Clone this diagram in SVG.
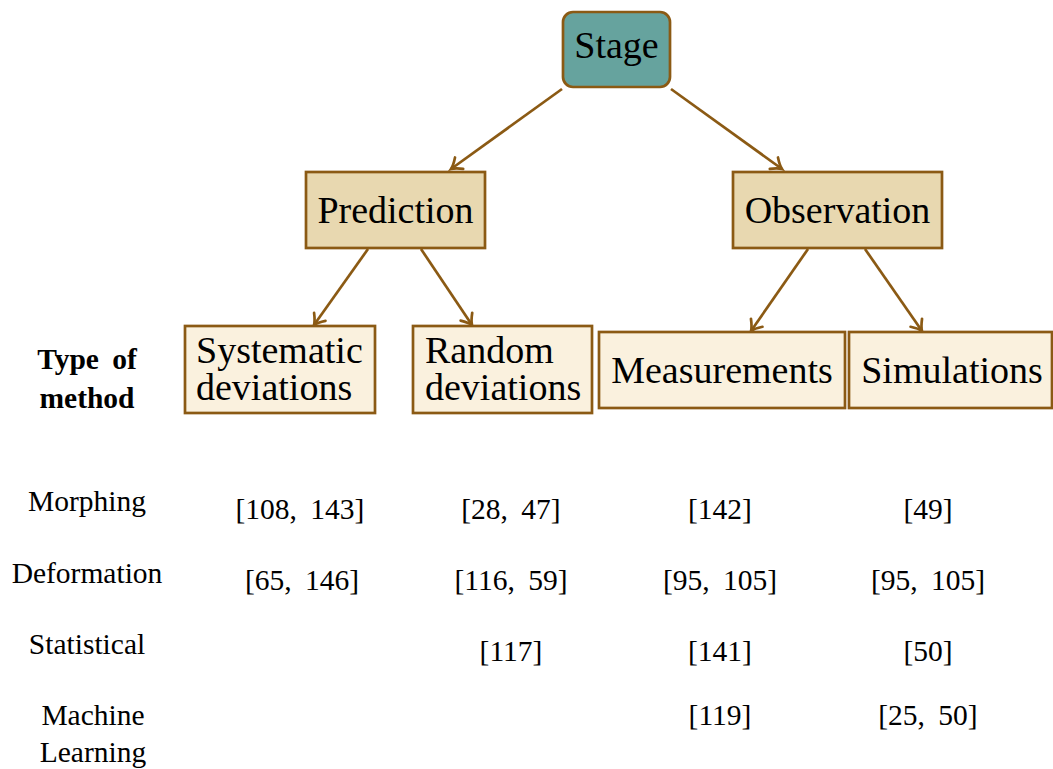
<svg xmlns="http://www.w3.org/2000/svg" width="1053" height="769" viewBox="0 0 1053 769">
<defs>
<style>
.box{stroke:#8b5a14;stroke-width:2.7}
.root{fill:#66a39e}
.mid{fill:#e8d8b0}
.leaf{fill:#faf1de}
.nt{font-size:38px;fill:#000}
.t{font-size:29.5px;fill:#000;text-anchor:middle}
.r{word-spacing:6px}
.b{font-weight:bold;word-spacing:6px}
.edge{stroke:#8b5a14;stroke-width:2.7;fill:none;marker-end:url(#ah)}
</style>
<marker id="ah" markerUnits="userSpaceOnUse" markerWidth="20" markerHeight="20" viewBox="-12 -10 14 20" refX="0" refY="0" orient="auto">
<path d="M-10,-7 Q-4,-1.5 0,0 Q-4,1.5 -10,7" fill="none" stroke="#8b5a14" stroke-width="2.7" stroke-linecap="round"/>
</marker>
</defs>
<g id="connectors">
<line class="edge" x1="562" y1="89" x2="451" y2="169"/>
<line class="edge" x1="671" y1="89" x2="782" y2="169"/>
<line class="edge" x1="368" y1="249" x2="314" y2="325"/>
<line class="edge" x1="421" y1="249" x2="472" y2="325"/>
<line class="edge" x1="808" y1="249" x2="751" y2="331"/>
<line class="edge" x1="865" y1="249" x2="922" y2="331"/>
</g>
<g font-family="Liberation Serif, Times New Roman, serif">
<g id="stage">
<rect class="box root" x="563" y="12" width="107" height="75" rx="10"/>
<text class="nt" x="616.5" y="58" text-anchor="middle">Stage</text>
</g>
<g id="prediction">
<rect class="box mid" x="306" y="172" width="179" height="76"/>
<text class="nt" x="395.5" y="223" text-anchor="middle">Prediction</text>
</g>
<g id="observation">
<rect class="box mid" x="733" y="172" width="209" height="76"/>
<text class="nt" x="837.5" y="223" text-anchor="middle">Observation</text>
</g>
<g id="systematic">
<rect class="box leaf" x="185" y="326" width="190" height="87"/>
<text class="nt" x="196" y="363">Systematic</text>
<text class="nt" x="196" y="400">deviations</text>
</g>
<g id="random">
<rect class="box leaf" x="413" y="326" width="179" height="87"/>
<text class="nt" x="425" y="363">Random</text>
<text class="nt" x="425" y="400">deviations</text>
</g>
<g id="measurements">
<rect class="box leaf" x="599" y="332" width="246" height="76"/>
<text class="nt" x="722" y="383" text-anchor="middle">Measurements</text>
</g>
<g id="simulations">
<rect class="box leaf" x="849" y="332" width="203" height="76"/>
<text class="nt" x="952" y="383" text-anchor="middle">Simulations</text>
</g>
<g id="table">
<text class="t b" x="87" y="369">Type of</text>
<text class="t b" x="87" y="408">method</text>
<text class="t" x="87" y="511">Morphing</text>
<text class="t r" x="300" y="519">[108, 143]</text>
<text class="t r" x="511" y="519">[28, 47]</text>
<text class="t r" x="720" y="519">[142]</text>
<text class="t r" x="928" y="519">[49]</text>
<text class="t" x="87" y="583">Deformation</text>
<text class="t r" x="302" y="590">[65, 146]</text>
<text class="t r" x="511" y="590">[116, 59]</text>
<text class="t r" x="720" y="590">[95, 105]</text>
<text class="t r" x="928" y="590">[95, 105]</text>
<text class="t" x="87" y="654">Statistical</text>
<text class="t r" x="511" y="661">[117]</text>
<text class="t r" x="720" y="661">[141]</text>
<text class="t r" x="928" y="661">[50]</text>
<text class="t" x="93" y="725">Machine</text>
<text class="t" x="93" y="762">Learning</text>
<text class="t r" x="720" y="725">[119]</text>
<text class="t r" x="928" y="725">[25, 50]</text>
</g>
</g>
</svg>
